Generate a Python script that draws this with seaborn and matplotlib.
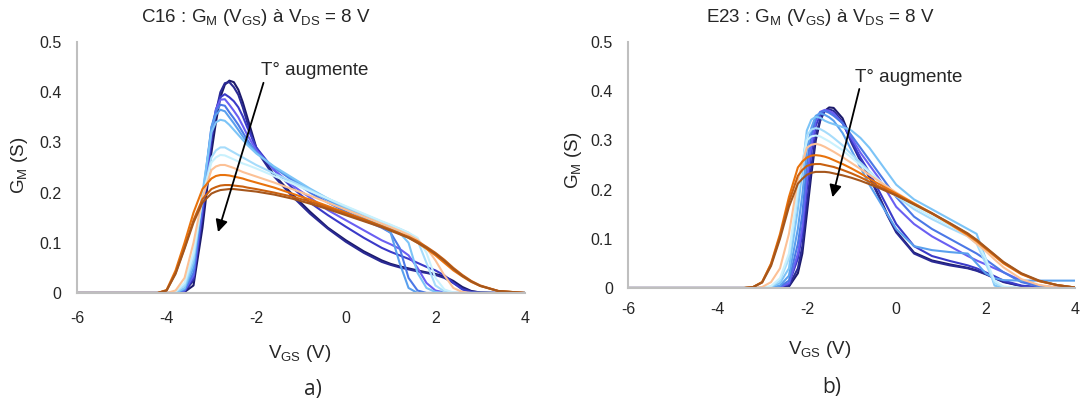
import matplotlib
matplotlib.use("Agg")
import matplotlib.pyplot as plt
import pandas as pd
import seaborn as sns

# --- data (G_M in S versus V_GS in V) ---
series_names = ["T1", "T2", "T3", "T4", "T5", "T6", "T7",
                "T8", "T9", "T10", "T11", "T12", "T13"]
series_colors = ["#1c1a6b", "#2a2a94", "#3a3ac8", "#6a5ff2", "#4b78e6",
                 "#5aa0ee", "#7cc4f7", "#a6dcfb", "#c9f1fd", "#fcc196",
                 "#e8720c", "#c9600f", "#a5561c"]

x_c16 = [-6, -4.2, -4.0, -3.8, -3.6, -3.4, -3.2, -3.0, -2.9, -2.8, -2.7, -2.6,
         -2.5, -2.4, -2.3, -2.2, -2.0, -1.6, -1.2, -0.8, -0.4, 0.0, 0.4, 0.8,
         1.0, 1.2, 1.4, 1.6, 1.8, 2.0, 2.2, 2.4, 2.6, 2.8, 3.0, 3.4, 4.0]
gm_c16 = [
    [0, 0, 0, 0, 0.002, 0.015, 0.13, 0.28, 0.34, 0.39, 0.415, 0.423, 0.42, 0.405, 0.38, 0.35, 0.29, 0.235, 0.197, 0.162, 0.13, 0.105, 0.083, 0.065, 0.058, 0.053, 0.049, 0.045, 0.041, 0.038, 0.033, 0.024, 0.012, 0.004, 0.001, 0, 0],
    [0, 0, 0, 0, 0.003, 0.025, 0.15, 0.30, 0.36, 0.40, 0.418, 0.42, 0.41, 0.395, 0.37, 0.34, 0.285, 0.232, 0.193, 0.158, 0.128, 0.102, 0.08, 0.062, 0.056, 0.051, 0.047, 0.043, 0.04, 0.036, 0.03, 0.02, 0.009, 0.003, 0.001, 0, 0],
    [0, 0, 0, 0, 0.004, 0.03, 0.16, 0.31, 0.365, 0.39, 0.396, 0.39, 0.382, 0.37, 0.352, 0.33, 0.29, 0.245, 0.21, 0.18, 0.155, 0.132, 0.11, 0.09, 0.082, 0.075, 0.068, 0.06, 0.052, 0.045, 0.035, 0.02, 0.007, 0.002, 0, 0, 0],
    [0, 0, 0, 0, 0.005, 0.035, 0.17, 0.32, 0.365, 0.385, 0.386, 0.375, 0.363, 0.35, 0.333, 0.315, 0.285, 0.245, 0.215, 0.19, 0.165, 0.145, 0.125, 0.105, 0.097, 0.088, 0.075, 0.05, 0.02, 0.005, 0.001, 0, 0, 0, 0, 0, 0],
    [0, 0, 0, 0, 0.006, 0.04, 0.18, 0.33, 0.362, 0.375, 0.373, 0.36, 0.348, 0.335, 0.32, 0.305, 0.28, 0.25, 0.225, 0.2, 0.18, 0.162, 0.145, 0.13, 0.12, 0.09, 0.03, 0.005, 0, 0, 0, 0, 0, 0, 0, 0, 0],
    [0, 0, 0, 0, 0.008, 0.05, 0.19, 0.33, 0.355, 0.365, 0.362, 0.35, 0.338, 0.325, 0.312, 0.30, 0.28, 0.25, 0.228, 0.205, 0.185, 0.167, 0.15, 0.133, 0.12, 0.06, 0.01, 0, 0, 0, 0, 0, 0, 0, 0, 0, 0],
    [0, 0, 0, 0, 0.01, 0.06, 0.20, 0.32, 0.34, 0.345, 0.343, 0.335, 0.325, 0.315, 0.305, 0.295, 0.278, 0.252, 0.23, 0.208, 0.188, 0.17, 0.153, 0.137, 0.13, 0.12, 0.10, 0.04, 0.01, 0.002, 0, 0, 0, 0, 0, 0, 0],
    [0, 0, 0, 0.002, 0.015, 0.07, 0.19, 0.27, 0.284, 0.29, 0.29, 0.285, 0.28, 0.275, 0.27, 0.265, 0.255, 0.238, 0.222, 0.205, 0.188, 0.172, 0.157, 0.142, 0.135, 0.128, 0.12, 0.105, 0.06, 0.015, 0.003, 0, 0, 0, 0, 0, 0],
    [0, 0, 0, 0.003, 0.02, 0.08, 0.19, 0.26, 0.27, 0.275, 0.274, 0.27, 0.266, 0.262, 0.258, 0.255, 0.248, 0.233, 0.218, 0.203, 0.188, 0.173, 0.158, 0.143, 0.136, 0.128, 0.12, 0.11, 0.08, 0.03, 0.007, 0.001, 0, 0, 0, 0, 0],
    [0, 0, 0, 0.005, 0.03, 0.10, 0.19, 0.245, 0.252, 0.255, 0.255, 0.252, 0.249, 0.245, 0.241, 0.238, 0.232, 0.22, 0.207, 0.194, 0.18, 0.166, 0.152, 0.138, 0.131, 0.124, 0.116, 0.106, 0.09, 0.065, 0.035, 0.01, 0.002, 0, 0, 0, 0],
    [0, 0, 0.006, 0.045, 0.10, 0.16, 0.207, 0.228, 0.233, 0.235, 0.235, 0.234, 0.232, 0.23, 0.228, 0.225, 0.22, 0.21, 0.198, 0.186, 0.173, 0.16, 0.147, 0.133, 0.126, 0.118, 0.11, 0.10, 0.088, 0.075, 0.06, 0.045, 0.033, 0.022, 0.014, 0.004, 0],
    [0, 0, 0.005, 0.04, 0.09, 0.145, 0.187, 0.207, 0.211, 0.214, 0.215, 0.215, 0.214, 0.213, 0.212, 0.21, 0.207, 0.20, 0.192, 0.182, 0.17, 0.158, 0.146, 0.133, 0.126, 0.119, 0.112, 0.103, 0.092, 0.08, 0.066, 0.05, 0.036, 0.024, 0.015, 0.004, 0],
    [0, 0, 0.005, 0.038, 0.088, 0.14, 0.18, 0.198, 0.202, 0.205, 0.206, 0.207, 0.207, 0.206, 0.205, 0.204, 0.202, 0.196, 0.188, 0.178, 0.167, 0.155, 0.143, 0.131, 0.124, 0.117, 0.11, 0.10, 0.09, 0.078, 0.064, 0.048, 0.034, 0.023, 0.014, 0.004, 0],
]

x_e23 = [-6, -3.4, -3.2, -3.0, -2.8, -2.6, -2.4, -2.2, -2.1, -2.0, -1.9, -1.8,
         -1.7, -1.6, -1.5, -1.4, -1.2, -1.0, -0.8, -0.6, -0.4, -0.2, 0.0, 0.4,
         0.8, 1.2, 1.6, 1.8, 2.0, 2.2, 2.4, 2.8, 3.2, 3.6, 4.0]
gm_e23 = [
    [0, 0, 0, 0, 0, 0, 0.003, 0.03, 0.07, 0.15, 0.23, 0.30, 0.34, 0.36, 0.367, 0.366, 0.345, 0.30, 0.26, 0.228, 0.19, 0.15, 0.115, 0.072, 0.056, 0.048, 0.041, 0.036, 0.029, 0.021, 0.013, 0.004, 0.001, 0, 0],
    [0, 0, 0, 0, 0, 0, 0.004, 0.04, 0.085, 0.17, 0.245, 0.31, 0.343, 0.36, 0.363, 0.36, 0.338, 0.295, 0.258, 0.225, 0.188, 0.148, 0.113, 0.07, 0.054, 0.046, 0.04, 0.035, 0.028, 0.02, 0.012, 0.004, 0.001, 0, 0],
    [0, 0, 0, 0, 0, 0.002, 0.008, 0.06, 0.11, 0.20, 0.275, 0.33, 0.352, 0.36, 0.359, 0.355, 0.335, 0.30, 0.265, 0.235, 0.20, 0.165, 0.13, 0.085, 0.065, 0.055, 0.046, 0.04, 0.032, 0.024, 0.015, 0.005, 0.001, 0, 0],
    [0, 0, 0, 0, 0, 0.002, 0.01, 0.07, 0.125, 0.22, 0.29, 0.34, 0.358, 0.362, 0.36, 0.355, 0.335, 0.305, 0.275, 0.25, 0.225, 0.195, 0.165, 0.13, 0.105, 0.085, 0.065, 0.056, 0.048, 0.04, 0.032, 0.015, 0.005, 0.001, 0],
    [0, 0, 0, 0, 0, 0.003, 0.015, 0.09, 0.15, 0.25, 0.31, 0.345, 0.357, 0.36, 0.356, 0.35, 0.335, 0.31, 0.285, 0.26, 0.235, 0.21, 0.185, 0.145, 0.12, 0.10, 0.08, 0.07, 0.058, 0.045, 0.032, 0.012, 0.003, 0, 0],
    [0, 0, 0, 0, 0.001, 0.005, 0.025, 0.12, 0.19, 0.28, 0.325, 0.35, 0.355, 0.352, 0.347, 0.34, 0.315, 0.28, 0.245, 0.21, 0.18, 0.15, 0.12, 0.085, 0.077, 0.073, 0.07, 0.05, 0.03, 0.02, 0.016, 0.015, 0.015, 0.015, 0.015],
    [0, 0, 0, 0, 0.002, 0.01, 0.04, 0.16, 0.24, 0.32, 0.342, 0.348, 0.346, 0.34, 0.336, 0.333, 0.327, 0.32, 0.305, 0.285, 0.26, 0.235, 0.21, 0.18, 0.16, 0.14, 0.12, 0.11, 0.06, 0.005, 0, 0, 0, 0, 0],
    [0, 0, 0, 0, 0.003, 0.015, 0.06, 0.19, 0.25, 0.31, 0.322, 0.325, 0.323, 0.318, 0.312, 0.305, 0.29, 0.272, 0.255, 0.237, 0.22, 0.203, 0.187, 0.16, 0.14, 0.122, 0.105, 0.09, 0.05, 0.01, 0.002, 0, 0, 0, 0],
    [0, 0, 0, 0, 0.004, 0.02, 0.07, 0.20, 0.255, 0.30, 0.308, 0.31, 0.308, 0.303, 0.298, 0.292, 0.28, 0.265, 0.25, 0.235, 0.22, 0.205, 0.19, 0.165, 0.145, 0.127, 0.11, 0.095, 0.06, 0.015, 0.003, 0, 0, 0, 0],
    [0, 0, 0, 0.002, 0.012, 0.04, 0.11, 0.22, 0.255, 0.285, 0.291, 0.293, 0.291, 0.287, 0.282, 0.277, 0.266, 0.254, 0.242, 0.23, 0.218, 0.206, 0.194, 0.172, 0.152, 0.13, 0.105, 0.09, 0.075, 0.058, 0.042, 0.018, 0.006, 0.001, 0],
    [0, 0, 0.002, 0.012, 0.05, 0.11, 0.185, 0.245, 0.257, 0.265, 0.269, 0.27, 0.269, 0.267, 0.264, 0.26, 0.252, 0.243, 0.233, 0.222, 0.212, 0.202, 0.192, 0.172, 0.152, 0.13, 0.108, 0.095, 0.08, 0.065, 0.05, 0.028, 0.014, 0.006, 0.001],
    [0, 0, 0.002, 0.012, 0.048, 0.105, 0.175, 0.228, 0.24, 0.248, 0.251, 0.252, 0.252, 0.25, 0.248, 0.246, 0.24, 0.233, 0.225, 0.216, 0.207, 0.198, 0.189, 0.17, 0.151, 0.131, 0.11, 0.097, 0.082, 0.067, 0.052, 0.029, 0.014, 0.006, 0.001],
    [0, 0, 0.002, 0.011, 0.045, 0.10, 0.165, 0.212, 0.222, 0.23, 0.234, 0.236, 0.236, 0.236, 0.235, 0.233, 0.229, 0.224, 0.218, 0.211, 0.204, 0.196, 0.188, 0.17, 0.152, 0.132, 0.111, 0.098, 0.083, 0.068, 0.053, 0.03, 0.015, 0.006, 0.001],
]

x_ticks = [-6, -4, -2, 0, 2, 4]
y_ticks = [0, 0.1, 0.2, 0.3, 0.4, 0.5]
titles = ["C16 : G$_\\mathregular{M}$ (V$_\\mathregular{GS}$) à V$_\\mathregular{DS}$ = 8 V",
          "E23 : G$_\\mathregular{M}$ (V$_\\mathregular{GS}$) à V$_\\mathregular{DS}$ = 8 V"]
panel_tags = ["a)", "b)"]
arrow_text = "T° augmente"


def long_frame(xs, rows):
    recs = []
    for name, row in zip(series_names, rows):
        for x, y in zip(xs, row):
            recs.append({"vgs": x, "gm": y, "serie": name})
    return pd.DataFrame(recs)


sns.set_theme(style="white")
plt.rcParams.update({
    "font.family": ["Liberation Sans", "DejaVu Sans"],
    "mathtext.fontset": "custom",
    "mathtext.rm": "Liberation Sans",
    "lines.solid_joinstyle": "round",
})

fig = plt.figure(figsize=(10.83, 4.08), dpi=100)
axes = [fig.add_axes([0.0711, 0.2819, 0.4137, 0.6152]),
        fig.add_axes([0.5799, 0.2941, 0.4127, 0.6030])]
palette = dict(zip(series_names, series_colors))

panels = [(x_c16, gm_c16), (x_e23, gm_e23)]
xpads = [13, 10]
for ax, (xs, rows), xpad in zip(axes, panels, xpads):
    df = long_frame(xs, rows)
    sns.lineplot(data=df, x="vgs", y="gm", hue="serie", palette=palette,
                 hue_order=series_names, estimator=None, sort=False,
                 linewidth=1.5, legend=False, ax=ax)
    ax.set_xlim(-6, 4)
    ax.set_ylim(0, 0.5)
    ax.set_xticks(x_ticks)
    ax.set_yticks(y_ticks)
    ax.set_xticklabels([f"{t:g}" for t in x_ticks])
    ax.set_yticklabels([f"{t:g}" for t in y_ticks])
    ax.tick_params(length=0, labelsize=11.5, colors="#262626")
    ax.tick_params(axis="x", pad=xpad)
    ax.tick_params(axis="y", pad=11)
    ax.set_xlabel("")
    ax.set_ylabel("")
    for side in ["top", "right"]:
        ax.spines[side].set_visible(False)
    for side in ["left", "bottom"]:
        ax.spines[side].set_color("#bfbfbf")
        ax.spines[side].set_linewidth(1.5)

# arrows "T° augmente"
axes[0].annotate("", xy=(-2.87, 0.116), xytext=(-1.82, 0.424),
                 arrowprops=dict(arrowstyle="-|>", color="black", lw=1.3,
                                 mutation_scale=18))
axes[0].text(-1.89, 0.444, arrow_text, fontsize=13.5, va="center", ha="left")
axes[1].annotate("", xy=(-1.44, 0.179), xytext=(-0.81, 0.41),
                 arrowprops=dict(arrowstyle="-|>", color="black", lw=1.3,
                                 mutation_scale=18))
axes[1].text(-0.92, 0.427, arrow_text, fontsize=13.5, va="center", ha="left")

# titles, axis labels and panel tags placed like the original layout
fig.text(256 / 1083, 1 - 18 / 408, titles[0], fontsize=13.5, ha="center", va="center")
fig.text(820 / 1083, 1 - 18 / 408, titles[1], fontsize=13.5, ha="center", va="center")
fig.text(300 / 1083, 1 - 353 / 408, "V$_\\mathregular{GS}$ (V)", fontsize=13.5,
         ha="center", va="center")
fig.text(820 / 1083, 1 - 349 / 408, "V$_\\mathregular{GS}$ (V)", fontsize=13.5,
         ha="center", va="center")
fig.text(20 / 1083, 1 - 165 / 408, "G$_\\mathregular{M}$ (S)", fontsize=13.5,
         rotation=90, ha="center", va="center")
fig.text(574 / 1083, 1 - 160 / 408, "G$_\\mathregular{M}$ (S)", fontsize=13.5,
         rotation=90, ha="center", va="center")
fig.text(313 / 1083, 1 - 390 / 408, panel_tags[0], fontsize=15,
         family=["Open Sans", "DejaVu Sans"], ha="center", va="center")
fig.text(832 / 1083, 1 - 387 / 408, panel_tags[1], fontsize=15,
         family=["Open Sans", "DejaVu Sans"], ha="center", va="center")

fig.savefig("out.png", dpi=100, facecolor="white")
